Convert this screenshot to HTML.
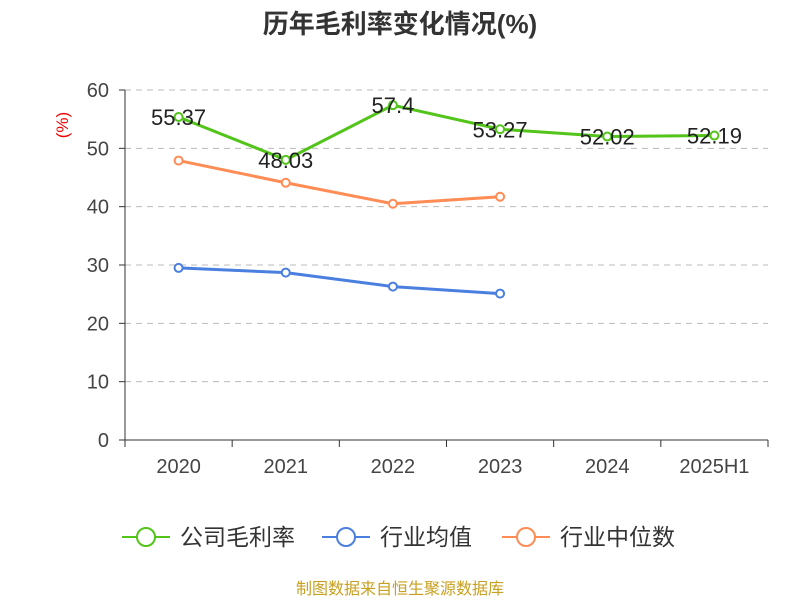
<!DOCTYPE html>
<html><head><meta charset="utf-8"><style>
body{margin:0;background:#fff;font-family:"Liberation Sans","Noto Sans CJK SC",sans-serif}
</style></head><body>
<svg id="chart" width="800" height="600" xmlns="http://www.w3.org/2000/svg" font-family="Liberation Sans, Noto Sans CJK SC, sans-serif">
<text x="400" y="33" text-anchor="middle" font-size="26" font-weight="bold" fill="#333">历年毛利率变化情况(%)</text>
<text x="68" y="125" text-anchor="middle" font-size="17" fill="#e00" transform="rotate(-90 68 125)">(%)</text>
<g id="grid"></g><g id="axes"></g><g id="series"></g>
<g>
<g><line x1="122" y1="537" x2="170" y2="537" stroke="#52c41a" stroke-width="2"/><circle cx="146" cy="537" r="9" fill="#fff" stroke="#52c41a" stroke-width="2"/><text x="180" y="545" font-size="23" fill="#333">公司毛利率</text></g>
<g><line x1="322" y1="537" x2="370" y2="537" stroke="#4a7fe0" stroke-width="2"/><circle cx="346" cy="537" r="9" fill="#fff" stroke="#4a7fe0" stroke-width="2"/><text x="380" y="545" font-size="23" fill="#333">行业均值</text></g>
<g><line x1="502" y1="537" x2="550" y2="537" stroke="#ff8c55" stroke-width="2"/><circle cx="526" cy="537" r="9" fill="#fff" stroke="#ff8c55" stroke-width="2"/><text x="560" y="545" font-size="23" fill="#333">行业中位数</text></g>
</g>
<text x="400" y="594" text-anchor="middle" font-size="16" fill="#c8a020">制图数据来自恒生聚源数据库</text>
</svg>
<script>
const categories=["2020","2021","2022","2023","2024","2025H1"];
const company=[55.37,48.03,57.4,53.27,52.02,52.19];
const industryAvg=[29.5,28.7,26.3,25.1];
const industryMedian=[47.9,44.1,40.5,41.7];
const yTicks=[0,10,20,30,40,50,60];
const NS="http://www.w3.org/2000/svg";
const x0=125,x1=768,yTop=90,yBot=440,yMax=60;
const bw=(x1-x0)/categories.length;
const xs=i=>x0+bw*(i+0.5);
const ys=v=>yBot-(v/yMax)*(yBot-yTop);
function mk(tag,attrs,parent,text){const e=document.createElementNS(NS,tag);for(const k in attrs)e.setAttribute(k,attrs[k]);if(text!==undefined)e.textContent=text;parent.appendChild(e);return e;}
const grid=document.getElementById('grid'),axes=document.getElementById('axes'),ser=document.getElementById('series');
yTicks.forEach(t=>{
 if(t>0){const g=mk('line',{x1:x0,x2:x1,y1:ys(t),y2:ys(t),stroke:'#bbb','stroke-dasharray':'6,5'},grid);
 
 }
 const tk=mk('line',{x1:x0-6,x2:x0,y1:ys(t),y2:ys(t),stroke:'#333'},axes);
 
 
 const l=mk('text',{x:x0-16,y:ys(t)+7,'text-anchor':'end','font-size':20,fill:'#444'},axes,t);
 
 
});
const ya=mk('line',{x1:x0,x2:x0,y1:yTop,y2:yBot,stroke:'#333'},axes);


const xa=mk('line',{x1:x0,x2:x1,y1:yBot,y2:yBot,stroke:'#333'},axes);


for(let i=0;i<=categories.length;i++){const t=mk('line',{x1:x0+bw*i,x2:x0+bw*i,y1:yBot,y2:yBot+7,stroke:'#333'},axes);
 
 }
categories.forEach((c,i)=>{const l=mk('text',{x:xs(i),y:yBot+33,'text-anchor':'middle','font-size':20,fill:'#444'},axes,c);
 
 });
function series(vals,color,name,labels){
 const p=mk('polyline',{points:vals.map((v,i)=>xs(i)+','+ys(v)).join(' '),fill:'none',stroke:color,'stroke-width':3},ser);
 
 
 vals.forEach((v,i)=>{const c=mk('circle',{cx:xs(i),cy:ys(v),r:4,fill:'#fff',stroke:color,'stroke-width':2},ser);
  
  
  if(labels){const t=mk('text',{x:xs(i),y:ys(v)+8,'text-anchor':'middle','font-size':22,fill:'#222'},ser,v);
   
   }
 });
}
series(industryAvg,'#4a7fe0','industry-avg',false);
series(industryMedian,'#ff8c55','industry-median',false);
series(company,'#52c41a','company',true);
</script>
</body></html>
